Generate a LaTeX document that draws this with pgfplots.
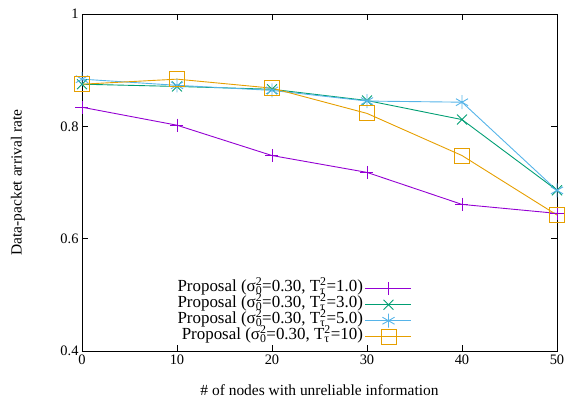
\documentclass[border=0pt]{standalone}
\usepackage{fontspec}
\setmainfont{Liberation Serif}
\usepackage{pgfplots}
\pgfplotsset{compat=1.18}
\definecolor{gpPurple}{HTML}{9400D3}
\definecolor{gpGreen}{HTML}{009E73}
\definecolor{gpBlue}{HTML}{56B4E9}
\definecolor{gpOrange}{HTML}{E69F00}
\newcommand{\subsup}[2]{\rlap{\textsubscript{#1}}\textsuperscript{#2}}

\begin{document}
\begin{tikzpicture}[x=1bp,y=1bp]
\path[use as bounding box] (-82bp,-50bp) rectangle (486bp,351bp);
\begin{axis}[
  at={(0,0)}, anchor=south west,
  scale only axis,
  width=475bp, height=337bp,
  xmin=0, xmax=50, ymin=0.4, ymax=1,
  xtick={0,10,...,50},
  ytick={0.4,0.6,0.8,1},
  yticklabels={0.4,0.6,0.8,1},
  tick align=inside,
  major tick length=6bp,
  tick style={black, line width=0.8pt},
  axis line style={black, line width=1pt},
  tick label style={font=\fontsize{14.5}{16}\selectfont},
  label style={font=\fontsize{15.5}{16}\selectfont},
  /pgf/number format/assume math mode=true,
  xlabel={\# of nodes with unreliable information},
  ylabel={Data-packet arrival rate},
  xlabel style={at={(axis description cs:0.5,0)}, yshift=-39bp, anchor=center},
  ylabel style={at={(axis description cs:0,0.5)}, rotate=0, yshift=64bp, anchor=center},
  legend cell align=right,
  legend plot pos=right,
  legend style={draw=none, fill=none, at={(0.695,0.018)}, anchor=south east,
    font=\fontsize{17}{17}\selectfont, inner sep=0pt, row sep=0pt,
    nodes={text height=9bp, text depth=3bp, inner ysep=2bp, inner xsep=2bp}},
  legend image code/.code={
    \draw[mark repeat=2,mark phase=2] plot coordinates {(10bp,0bp) (33bp,0bp) (56bp,0bp)};},
  every axis plot/.append style={line width=0.9pt},
]
\addplot[gpPurple, mark=+, mark size=6.5bp] coordinates {
  (0,0.834) (10,0.802) (20,0.748) (30,0.718) (40,0.661) (50,0.645)};
\addlegendentry{Proposal (σ\subsup{0}{2}=0.30, T\subsup{τ}{2}=1.0)}
\addplot[gpGreen, mark=x, mark size=7bp] coordinates {
  (0,0.875) (10,0.871) (20,0.866) (30,0.846) (40,0.812) (50,0.686)};
\addlegendentry{Proposal (σ\subsup{0}{2}=0.30, T\subsup{τ}{2}=3.0)}
\addplot[gpBlue, mark=asterisk, mark size=7bp] coordinates {
  (0,0.884) (10,0.873) (20,0.864) (30,0.845) (40,0.843) (50,0.686)};
\addlegendentry{Proposal (σ\subsup{0}{2}=0.30, T\subsup{τ}{2}=5.0)}
\addplot[gpOrange, mark=square, mark size=7.5bp] coordinates {
  (0,0.875) (10,0.884) (20,0.868) (30,0.823) (40,0.748) (50,0.642)};
\addlegendentry{Proposal (σ\subsup{0}{2}=0.30, T\subsup{τ}{2}=10)}
\end{axis}
\end{tikzpicture}
\end{document}
